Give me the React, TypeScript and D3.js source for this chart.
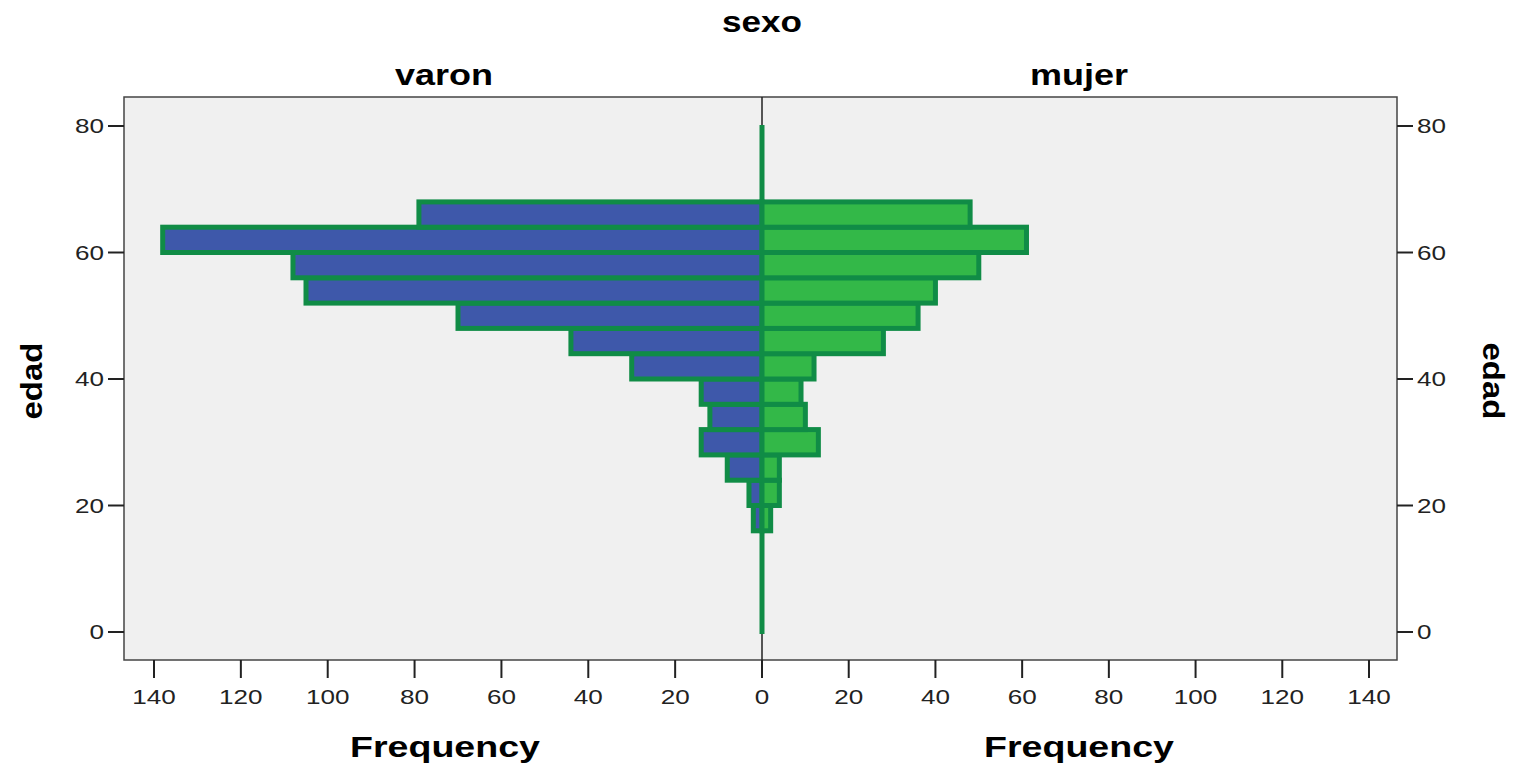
import React from 'react';
import * as d3 from 'd3';

// age bins (lower edge, width 4 years)
const binStarts = [16, 20, 24, 28, 32, 36, 40, 44, 48, 52, 56, 60, 64];
const binWidth = 4;
const varon = [2, 3, 8, 14, 12, 14, 30, 44, 70, 105, 108, 138, 79];
const mujer = [2, 4, 4, 13, 10, 9, 12, 28, 36, 40, 50, 61, 48];
const freqTicks = [0, 20, 40, 60, 80, 100, 120, 140];
const ageTicks = [0, 20, 40, 60, 80];

const W = 1525;
const H = 768;
const plot = { left: 124, right: 1397, top: 97, bottom: 660 };
const center = 762;

const FONT = '"Liberation Sans", Arial, sans-serif';
const OUTLINE = '#108c46';
const BLUE = '#3e58aa';
const GREEN = '#33b848';

// labels in the source are a bit stretched horizontally
const tickLen = (t: number) => String(t).length * 14.5;

const App: React.FC = () => {
  const y = d3.scaleLinear().domain([0, 80]).range([632, 126]);
  const xL = d3.scaleLinear().domain([0, 140]).range([center, 154]);
  const xR = d3.scaleLinear().domain([0, 140]).range([center, 1369]);

  return (
    <svg width={W} height={H} style={{ position: 'absolute', left: 0, top: 0, background: '#fff' }}>
      {/* plot background */}
      <rect x={plot.left} y={plot.top} width={plot.right - plot.left} height={plot.bottom - plot.top}
        fill="#f0f0f0" stroke="#444" strokeWidth={1.5} />

      {/* center divider */}
      <line x1={center} x2={center} y1={plot.top} y2={plot.bottom} stroke="#222" strokeWidth={1.5} />

      {/* empty bins show as a thin outline on zero */}
      <line x1={center} x2={center} y1={y(80) - 1} y2={y(0) + 2} stroke={OUTLINE} strokeWidth={5} />

      {/* male bars */}
      {binStarts.map((b, i) => (
        <rect key={'m' + b}
          x={xL(varon[i])} y={y(b + binWidth)}
          width={center - xL(varon[i])} height={y(b) - y(b + binWidth)}
          fill={BLUE} stroke={OUTLINE} strokeWidth={5} />
      ))}
      {/* female bars */}
      {binStarts.map((b, i) => (
        <rect key={'f' + b}
          x={center} y={y(b + binWidth)}
          width={xR(mujer[i]) - center} height={y(b) - y(b + binWidth)}
          fill={GREEN} stroke={OUTLINE} strokeWidth={5} />
      ))}

      {/* y axes */}
      {ageTicks.map(t => (
        <g key={'ya' + t}>
          <line x1={plot.left - 16} x2={plot.left} y1={y(t)} y2={y(t)} stroke="#222" strokeWidth={2} />
          <text x={plot.left - 20} y={y(t)} dy="0.35em" textAnchor="end" fontFamily={FONT}
            fontSize={21} fill="#222" textLength={tickLen(t)} lengthAdjust="spacingAndGlyphs">{t}</text>
          <line x1={plot.right} x2={plot.right + 16} y1={y(t)} y2={y(t)} stroke="#222" strokeWidth={2} />
          <text x={plot.right + 20} y={y(t)} dy="0.35em" textAnchor="start" fontFamily={FONT}
            fontSize={21} fill="#222" textLength={tickLen(t)} lengthAdjust="spacingAndGlyphs">{t}</text>
        </g>
      ))}

      {/* x axes */}
      {freqTicks.map(t => (
        <g key={'xl' + t}>
          <line x1={xL(t)} x2={xL(t)} y1={plot.bottom} y2={plot.bottom + 18} stroke="#222" strokeWidth={2} />
          <text x={xL(t)} y={697} dy="0.35em" textAnchor="middle" fontFamily={FONT} fontSize={21} fill="#222"
            textLength={tickLen(t)} lengthAdjust="spacingAndGlyphs">{t}</text>
        </g>
      ))}
      {freqTicks.filter(t => t > 0).map(t => (
        <g key={'xr' + t}>
          <line x1={xR(t)} x2={xR(t)} y1={plot.bottom} y2={plot.bottom + 18} stroke="#222" strokeWidth={2} />
          <text x={xR(t)} y={697} dy="0.35em" textAnchor="middle" fontFamily={FONT} fontSize={21} fill="#222"
            textLength={tickLen(t)} lengthAdjust="spacingAndGlyphs">{t}</text>
        </g>
      ))}

      {/* titles */}
      <text x={center} y={22} dy="0.35em" textAnchor="middle" fontFamily={FONT} fontWeight="bold"
        fontSize={29} textLength={80} lengthAdjust="spacingAndGlyphs">sexo</text>
      <text x={444} y={75} dy="0.35em" textAnchor="middle" fontFamily={FONT} fontWeight="bold"
        fontSize={29} textLength={98} lengthAdjust="spacingAndGlyphs">varon</text>
      <text x={1079} y={75} dy="0.35em" textAnchor="middle" fontFamily={FONT} fontWeight="bold"
        fontSize={29} textLength={98} lengthAdjust="spacingAndGlyphs">mujer</text>
      <text x={445} y={746} dy="0.35em" textAnchor="middle" fontFamily={FONT} fontWeight="bold"
        fontSize={30} textLength={190} lengthAdjust="spacingAndGlyphs">Frequency</text>
      <text x={1079} y={746} dy="0.35em" textAnchor="middle" fontFamily={FONT} fontWeight="bold"
        fontSize={30} textLength={190} lengthAdjust="spacingAndGlyphs">Frequency</text>
      <text transform={`translate(32,381) rotate(-90)`} dy="0.35em" textAnchor="middle" fontFamily={FONT}
        fontWeight="bold" fontSize={29} textLength={77} lengthAdjust="spacingAndGlyphs">edad</text>
      <text transform={`translate(1493,381) rotate(90)`} dy="0.35em" textAnchor="middle" fontFamily={FONT}
        fontWeight="bold" fontSize={29} textLength={77} lengthAdjust="spacingAndGlyphs">edad</text>
    </svg>
  );
};

export default App;
